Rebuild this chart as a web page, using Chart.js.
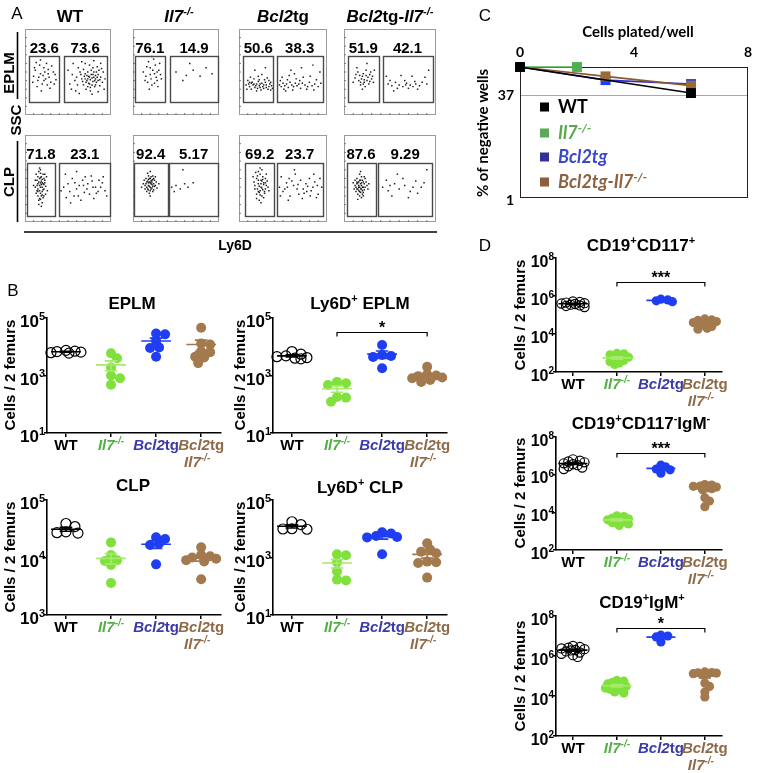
<!DOCTYPE html>
<html><head><meta charset="utf-8">
<script src="https://cdn.jsdelivr.net/npm/chart.js"></script>
<style>html,body{margin:0;padding:0;background:#fff}#wrap{position:relative;width:757px;height:773px;overflow:hidden;background:#fff}#wrap canvas{position:absolute;left:0;top:0}</style>
</head><body><div id="wrap"></div>
<script>
// ================= DATA =================
const groupNames = ['WT', 'Il7-/-', 'Bcl2tg', 'Bcl2tg-Il7-/-'];

// Panel A: flow cytometry gate percentages
const pctEPLM = [[23.6, 73.6], [76.1, 14.9], [50.6, 38.3], [51.9, 42.1]];
const pctCLP  = [[71.8, 23.1], [92.4, 5.17], [69.2, 23.7], [87.6, 9.29]];
// gates (Ly6D range, plot units 0-100)
const gateEPLM = [[[5, 40], [45, 95]], [[2, 37], [43, 99]], [[5, 39], [43, 95]], [[4, 38], [42, 96]]];
const gateYEPLM = [16, 69];
const gateCLP = [[[2, 35], [40, 99]], [[1, 40], [42, 99]], [[7, 40], [43, 95]], [[3, 34], [37, 96]]];
const gateYCLP = [7, 68];
// events [Ly6D, SSC] in plot units 0-100
const flowEPLM_WT = [[12,52],[18,48],[22,55],[15,40],[28,44],[33,50],[20,36],[25,60],[10,45],[30,38],[17,58],[24,42],[35,47],[14,33],[27,53],[21,46],[9,38],[31,57],[19,28],[26,35],[13,61],[36,41],[23,50],[16,44],[29,31],[11,55],[34,36],[22,40],[18,64],[27,48],
[78,43],[72,40],[82,46],[75,36],[85,40],[70,48],[80,50],[76,32],[88,44],[66,42],[74,45],[83,38],[79,55],[68,35],[86,52],[73,50],[81,33],[77,47],[90,38],[64,50],[71,30],[84,56],[60,44],[87,34],[75,58],[79,39],[69,45],[82,42],[76,41],[74,37],[80,44],[72,46],[85,47],[78,35],[67,39],[83,50],[70,42],[77,52],[81,40],[73,33],[58,40],[62,55],[55,47],[52,36],[91,50],[93,42],[56,60],[66,62],[88,60],[59,28],[63,25],[85,27],[78,24],[50,52],[54,30],[92,30],[70,60],[80,63],[61,35],[89,54],[76,28],[68,53],[84,44],[71,38],[79,47],[75,44],[82,35],[73,42],[65,47],[87,41]];
const flowEPLM_Il7 = [[20,55],[25,48],[18,62],[28,40],[22,35],[30,52],[15,45],[26,58],[21,42],[32,47],[17,38],[24,65],[29,33],[12,50],[23,52],[27,44],[19,30],[31,60],[16,56],[25,37],[22,68],[28,50],[14,40],[33,42],[20,47],
[50,50],[62,46],[70,52],[85,55],[58,40],[78,45],[92,48],[66,60]];
const flowEPLM_Bcl2 = [[8,35],[12,33],[15,38],[18,32],[20,36],[23,34],[26,37],[28,31],[31,35],[34,33],[36,38],[10,40],[14,30],[17,42],[22,39],[25,29],[29,41],[33,30],[37,34],[11,36],[19,34],[24,36],[27,33],[30,38],[35,36],[13,44],[21,31],[32,43],[16,35],[9,30],[38,31],[26,47],[18,52],[30,55],[22,45],[14,37],[34,40],[20,28],[28,35],[24,32],[36,29],[12,38],[31,32],[17,36],[23,41],
[46,35],[48,33],[50,37],[52,34],[54,36],[56,32],[58,38],[47,40],[51,30],[55,41],[60,35],[62,33],[64,37],[66,34],[68,36],[70,31],[72,37],[75,35],[78,33],[80,38],[83,34],[86,36],[90,33],[93,37],[49,44],[57,46],[65,42],[73,44],[81,45],[88,41],[53,28],[61,29],[69,40],[77,30],[85,29],[59,52],[71,55],[84,58],[92,50],[63,48]];
const flowEPLM_DKO = [[20,45],[25,40],[15,50],[22,38],[28,47],[18,35],[30,42],[12,43],[24,52],[27,36],[16,40],[21,48],[32,38],[19,42],[26,44],[14,55],[23,33],[29,50],[17,46],[25,60],[10,38],[31,45],[20,30],[22,41],[28,39],[13,47],[33,52],[18,38],[24,46],[21,36],
[48,36],[52,34],[56,38],[60,35],[64,33],[68,37],[72,35],[75,33],[78,36],[82,34],[50,40],[58,31],[66,40],[70,31],[85,38],[62,46],[74,45],[88,44],[92,52],[54,28],[80,30],[46,45],[67,35],[77,39],[90,36]];
const flowCLP_WT = [[18,40],[15,35],[20,45],[17,50],[22,38],[14,42],[19,30],[21,55],[16,25],[23,48],[13,33],[18,60],[20,22],[15,52],[22,43],[17,36],[19,47],[12,40],[24,32],[16,58],[21,28],[18,45],[14,48],[20,35],[23,55],[17,42],[19,18],[15,30],[22,50],[18,33],[16,46],[20,40],[13,55],[21,44],[17,27],[19,52],[24,41],[15,38],[18,56],[22,30],[16,20],[20,49],[14,36],[19,43],[17,62],[21,37],[18,26],[23,45],[15,44],[20,31],[12,48],[26,36],[10,42],[25,52],[18,51],
[45,40],[52,35],[58,45],[62,30],[68,42],[72,38],[78,47],[83,33],[88,40],[93,36],[48,28],[55,50],[65,25],[70,52],[80,27],[86,48],[50,44],[60,38],[75,32],[90,45],[42,36],[57,30],[67,48],[73,44],[82,40],[95,30],[47,55],[63,42],[77,53],[85,35],[53,22],[69,34],[79,40],[91,52],[60,58]];
const flowCLP_Il7 = [[20,45],[18,42],[22,48],[16,40],[24,44],[19,50],[21,38],[17,47],[23,41],[15,44],[25,48],[20,36],[18,53],[22,43],[14,38],[26,42],[19,46],[21,52],[16,35],[23,49],[20,40],[17,56],[24,37],[18,45],[22,39],[12,44],[27,46],[19,33],[21,44],[15,50],[25,41],[20,58],[17,38],[23,53],[18,49],[10,40],[28,39],[13,48],[20,30],[22,46],[16,46],[24,50],[19,41],[21,47],[18,37],[26,52],[14,42],[23,35],[20,50],[30,44],
[45,40],[50,42],[55,38],[60,44],[64,40],[48,35],[58,60],[70,45]];
const flowCLP_Bcl2 = [[25,40],[22,35],[28,45],[20,50],[30,38],[24,55],[26,30],[18,42],[32,47],[23,25],[27,52],[21,38],[29,33],[25,48],[19,57],[31,42],[24,36],[28,28],[22,44],[26,60],[20,32],[30,50],[23,41],[27,37],[25,22],[17,46],[33,40],[21,53],[28,43],[24,31],[26,47],[22,58],[29,35],[18,38],[31,55],[25,44],[20,27],[27,49],[23,34],[30,45],[16,52],[34,36],[22,48],[26,39],[24,62],
[46,40],[50,35],[54,45],[58,30],[62,42],[66,38],[70,48],[74,33],[78,41],[82,36],[86,46],[90,32],[94,40],[48,52],[56,25],[64,55],[72,27],[80,50],[88,28],[52,38],[60,47],[68,32],[76,44],[84,40],[92,50],[47,30],[57,50],[67,43],[77,35],[85,55],[63,60],[73,38],[89,42],[55,40],[81,30]];
const flowCLP_DKO = [[17,40],[15,38],[19,42],[14,44],[20,36],[16,46],[18,34],[21,40],[13,40],[17,48],[22,44],[15,32],[19,38],[12,42],[20,48],[16,36],[23,40],[18,44],[14,50],[21,34],[17,30],[19,52],[11,38],[24,46],[16,42],[20,40],[15,45],[22,37],[18,38],[13,35],[25,42],[17,55],[19,28],[21,46],[14,38],[23,50],[16,40],[18,48],[20,32],[10,45],[26,38],[12,48],[22,52],[17,35],[19,45],[15,26],[27,44],[18,58],[21,30],[14,46],
[42,40],[48,36],[55,44],[60,38],[66,42],[72,35],[78,47],[84,40],[90,60],[46,48],[52,30],[64,50],[70,28],[80,33],[58,55],[75,40],[87,45],[50,42]];

// Panel B: cells / 2 femurs, groups in order WT, Il7-/-, Bcl2tg, Bcl2tg Il7-/-
const eplmCells = [[7000,6500,6000,7500,6200,6800],[5900,4000,1900,1000,800,480],[29000,27000,16000,9000,9500,4500],[46000,13000,12000,7000,6500,4500,4200,2700]];
const ly6dEplmCells = [[6800,5500,4800,4500,4200,4000,3800],[600,540,470,180,170,123],[11500,5200,4800,4400,1800],[2000,1100,1000,950,850,800,700,600]];
const clpCells = [[39000,34500,28000,27000,26500],[18300,11000,9000,8700,7400,3600],[22500,21000,17500,16500,7600],[15000,11000,10500,10000,9500,9000,8500,4200]];
const ly6dClpCells = [[17500,14000,10000,9800,9600],[1300,1200,680,330,170,160],[7600,6800,5600,5200,5000,1300],[3100,1900,1600,1400,720,680,640,200]];
const ticksB = [10, 1e3, 1e5];
const ticksCLP = [1e3, 1e4, 1e5];

// Panel C: limiting dilution, [cells plated/well, % negative wells]
const platedWT   = [[0,100],[6,40]];
const platedIl7  = [[0,100],[2,100]];
const platedBcl2 = [[0,100],[3,63],[6,55]];
const platedDKO  = [[0,100],[3,72],[6,52]];
const ticksCx = [0, 4, 8];
const ticksCy = [1, 37];

// Panel D
const cd117Cells = [[520000,480000,450000,420000,400000,380000,350000,320000,300000,260000],[950,900,800,600,550,450,400,350,300,250],[680000,620000,560000,500000],[62000,55000,52000,45000,40000,36000,30000,25000,20000,18000]];
const cd117IgMnegCells = [[6.5e6,5.5e6,5e6,4.5e6,4e6,3.6e6,3.2e6,2.8e6,2.4e6,2e6],[6500,6000,5000,4500,4000,3600,3200,2800,2400,2000],[3.2e6,2.6e6,2e6,1.8e6,1.2e6],[300000,280000,250000,240000,220000,200000,180000,160000,60000,40000,20000]];
const igmPosCells = [[3.2e6,2.8e6,2.6e6,2.4e6,2.2e6,2e6,1.9e6,1.7e6,1.5e6,1.3e6,1.1e6,0.9e6],[60000,55000,48000,40000,35000,30000,28000,25000,22000,20000,16000,14000],[1.1e7,1e7,9e6,5e6],[160000,150000,145000,140000,130000,125000,115000,45000,30000,16000,9000]];
const ticksD = [1e2, 1e4, 1e6, 1e8];

// ================= RENDERING =================
const FONT = '"Liberation Sans", Arial, Helvetica, sans-serif';
const FONTC = 'Lato, "Open Sans", sans-serif';
const W = 757, H = 773;
const wrap = document.getElementById('wrap');
const COL_PT = ['#000000', '#80e13c', '#1f3ef2', '#a37a4e'];
const COL_TXT = ['#000000', '#52b043', '#3a3aa8', '#8e6a48'];
const SEG = [
  [{t:'WT'}],
  [{t:'Il7',it:true},{t:'-/-',it:true,sup:true}],
  [{t:'Bcl2',it:true},{t:'tg'}],
  [{t:'Bcl2',it:true},{t:'tg-'},{t:'Il7',it:true},{t:'-/-',it:true,sup:true}]
];
const SEG_IL7 = SEG[1];
const SEG_BCL = SEG[2];

function newCanvas(){
  const c = document.createElement('canvas');
  c.width = W; c.height = H; c.style.width = W + 'px'; c.style.height = H + 'px';
  wrap.appendChild(c); return c;
}
function pad(a){ return {left:a[0], top:a[1], right:W-a[2], bottom:H-a[3]}; }
function rich(ctx, segs, x, y, o){
  ctx.save(); ctx.translate(x, y); if (o.rot) ctx.rotate(o.rot);
  const sz = o.size, fam = o.family || FONT, wt = o.weight || 'bold';
  const f = s => (s.it ? 'italic ' : '') + wt + ' ' + (s.sup ? Math.round(sz*0.64) : sz) + 'px ' + fam;
  let w = 0; const ws = [];
  for (const s of segs){ ctx.font = f(s); const m = ctx.measureText(s.t).width; ws.push(m); w += m; }
  let cx = o.align === 'left' ? 0 : o.align === 'right' ? -w : -w/2;
  ctx.textBaseline = 'alphabetic'; ctx.textAlign = 'left';
  segs.forEach((s, i) => {
    ctx.font = f(s); ctx.fillStyle = s.c || o.color || '#000';
    ctx.fillText(s.t, cx, sz*0.36 - (s.sup ? sz*0.42 : 0)); cx += ws[i];
  });
  ctx.restore();
}
const BASE = {responsive:false, animation:false, events:[], devicePixelRatio:1,
  plugins:{legend:{display:false}, tooltip:{enabled:false}}};

// ---------- Panel A ----------
function flowPanel(area, pts, gates, gy, pcts){
  const cv = newCanvas();
  new Chart(cv, {
    type:'scatter',
    data:{datasets:[{data:pts.map(p => ({x:p[0], y:p[1]})), pointStyle:'rect', pointRadius:1.05,
      backgroundColor:'#1c1c1c', borderWidth:0, clip:false}]},
    options:Object.assign({}, BASE, {
      layout:{padding:pad(area), autoPadding:false},
      scales:{
        x:{type:'linear', min:0, max:100, display:false},
        y:{type:'linear', min:0, max:100, display:false}
      }
    }),
    plugins:[{id:'flow',
      beforeDatasetsDraw(ch){
        const c = ch.ctx, a = ch.chartArea;
        c.save(); c.strokeStyle = '#9a9a9a'; c.lineWidth = 1;
        c.strokeRect(a.left+0.5, a.top+0.5, a.right-a.left-1, a.bottom-a.top-1);
        c.strokeStyle = '#777';
        for (let i = 1; i < 10; i++){
          const x = a.left + (a.right-a.left)*i/10, y = a.bottom - (a.bottom-a.top)*i/10;
          c.beginPath(); c.moveTo(x, a.bottom); c.lineTo(x, a.bottom-2); c.moveTo(a.left, y); c.lineTo(a.left+2, y); c.stroke();
        }
        c.restore();
      },
      afterDatasetsDraw(ch){
        const c = ch.ctx, xs = ch.scales.x, ys = ch.scales.y, a = ch.chartArea;
        c.save(); c.strokeStyle = '#4a4a4a'; c.lineWidth = 1.4;
        gates.forEach((g, i) => {
          const x1 = xs.getPixelForValue(g[0]), x2 = xs.getPixelForValue(g[1]);
          const y1 = ys.getPixelForValue(gy[1]), y2 = ys.getPixelForValue(gy[0]);
          c.strokeRect(Math.round(x1)+0.5, Math.round(y1)+0.5, Math.round(x2-x1), Math.round(y2-y1));
          rich(c, [{t:String(pcts[i])}], (x1+x2)/2, a.top+19, {size:15});
        });
        c.restore();
      }
    }]
  });
}
const flowTop = [[25,29,111,115],[133,29,219,115],[239,29,327,115],[344,29,436,115]];
const flowBot = [[25,135,111,222],[133,135,219,222],[239,135,327,222],[344,135,436,222]];
const flowE = [flowEPLM_WT, flowEPLM_Il7, flowEPLM_Bcl2, flowEPLM_DKO];
const flowC = [flowCLP_WT, flowCLP_Il7, flowCLP_Bcl2, flowCLP_DKO];
for (let i = 0; i < 4; i++){
  flowPanel(flowTop[i], flowE[i], gateEPLM[i], gateYEPLM, pctEPLM[i]);
  flowPanel(flowBot[i], flowC[i], gateCLP[i], gateYCLP, pctCLP[i]);
}

// ---------- Panels B & D ----------
// scatter-dot layout: spread overlapping points sideways, within a bounded width
function swarm(vals, g, ypx, pxX, r, step, dist, maxOff){
  const order = vals.map((v, i) => i).sort((a, b) => vals[b] - vals[a]);
  const placed = [], out = new Array(vals.length);
  for (const i of order){
    const y = ypx(vals[i]); let best = 0, bestD = -1, found = false;
    for (let k = 0; k < 80; k++){
      const c = (k === 0 ? 0 : (k % 2 ? 1 : -1) * Math.ceil(k/2)) * r * step;
      if (Math.abs(c) > maxOff) break;
      const dmin = placed.length ? Math.min(...placed.map(p => Math.hypot(p.x - c, p.y - y))) : Infinity;
      if (dmin >= r*dist){ best = c; found = true; break; }
      if (dmin > bestD){ bestD = dmin; best = c; }
    }
    placed.push({x:best, y}); out[i] = {x:g + best/pxX, y:vals[i]};
  }
  return out;
}
function dotPanel(o){
  const [l, t, r, b] = o.area;
  const lmin = Math.log10(o.ymin), lmax = Math.log10(o.ymax);
  const pxX = (r - l)/(o.xmax - o.xmin);
  const ypx = v => t + (lmax - Math.log10(v))/(lmax - lmin)*(b - t);
  const datasets = o.vals.map((vals, g) => ({
    data: swarm(vals, g, ypx, pxX, o.r, o.step, o.dist, o.maxOff*pxX),
    pointRadius: o.r, pointStyle:'circle',
    backgroundColor: g === 0 ? 'rgba(255,255,255,0)' : COL_PT[g],
    borderColor: g === 0 ? '#000' : COL_PT[g],
    borderWidth: g === 0 ? 1.2 : 0, clip:false
  }));
  const axisGrid = {display:true, drawOnChartArea:false, drawTicks:true, tickLength:3, color:'#000', tickColor:'#000', tickWidth:1.5, lineWidth:1.5};
  const cv = newCanvas();
  new Chart(cv, {
    type:'scatter', data:{datasets},
    options:Object.assign({}, BASE, {
      layout:{padding:pad(o.area), autoPadding:false},
      scales:{
        x:{type:'linear', position:'bottom', min:o.xmin, max:o.xmax,
           afterBuildTicks:s => { s.ticks = [0,1,2,3].map(v => ({value:v})); },
           afterFit:s => { s.height = 0; },
           ticks:{display:false}, grid:Object.assign({}, axisGrid, {tickLength:4}), border:{display:true, color:'#000', width:1.6}},
        y:{type:'logarithmic', position:'left', min:o.ymin, max:o.ymax,
           afterBuildTicks:s => { s.ticks = o.ticks.map(v => ({value:v})); },
           afterFit:s => { s.width = 0; },
           ticks:{display:false}, grid:axisGrid, border:{display:true, color:'#000', width:1.6}}
      }
    }),
    plugins:[{id:'dots',
      afterDatasetsDraw(ch){
        const c = ch.ctx, xs = ch.scales.x, ys = ch.scales.y, a = ch.chartArea;
        // mean + SEM
        o.vals.forEach((vals, g) => {
          const n = vals.length, m = vals.reduce((s, v) => s + v, 0)/n;
          const sd = Math.sqrt(vals.reduce((s, v) => s + (v - m)*(v - m), 0)/(n - 1));
          const se = sd/Math.sqrt(n);
          const cx = xs.getPixelForValue(g);
          const ym = ys.getPixelForValue(m), y1 = ys.getPixelForValue(m + se), y2 = ys.getPixelForValue(Math.max(m - se, o.ymin));
          const hw = 0.33*pxX, cw = 0.14*pxX;
          c.save(); c.strokeStyle = g === 0 ? '#000' : (g === 1 ? '#a5ea6a' : COL_PT[g]); c.lineWidth = 1.6;
          c.beginPath();
          c.moveTo(cx - hw, ym); c.lineTo(cx + hw, ym);
          c.moveTo(cx, y1); c.lineTo(cx, y2);
          c.moveTo(cx - cw, y1); c.lineTo(cx + cw, y1);
          c.moveTo(cx - cw, y2); c.lineTo(cx + cw, y2);
          c.stroke(); c.restore();
        });
        // y tick labels 10^n
        o.ticks.forEach(v => {
          const e = Math.round(Math.log10(v));
          rich(c, [{t:'10'}, {t:String(e), sup:true}], a.left - 2, ys.getPixelForValue(v) + 3, {size:o.tickSize, align:'right'});
        });
        // category labels
        for (let g = 0; g < 4; g++){
          const x = xs.getPixelForValue(g);
          rich(c, g === 3 ? SEG_BCL : SEG[g], x, a.bottom + 12, {size:15, color:COL_TXT[g]});
          if (g === 3) rich(c, SEG_IL7, x - 4, a.bottom + 29, {size:15, color:COL_TXT[3]});
        }
        // titles
        rich(c, o.title, o.titlePos[0], o.titlePos[1], {size:17});
        rich(c, [{t:'Cells / 2 femurs'}], o.ytPos[0], o.ytPos[1], {size:15, rot:-Math.PI/2});
        // significance bracket
        if (o.bracket){
          const x1 = xs.getPixelForValue(o.bracket.g[0]), x2 = xs.getPixelForValue(o.bracket.g[1]);
          const yb = Math.round(ys.getPixelForValue(o.bracket.level)) + 0.5;
          c.save(); c.strokeStyle = '#000'; c.lineWidth = 1.2;
          c.beginPath(); c.moveTo(x1, yb + 4); c.lineTo(x1, yb); c.lineTo(x2, yb); c.lineTo(x2, yb + 4); c.stroke(); c.restore();
          rich(c, [{t:o.bracket.label}], (x1 + x2)/2, yb - 5, {size:16});
        }
      }
    }]
  });
}
const ly6dTitle = w => [{t:'Ly6D'}, {t:'+', sup:true}, {t:' ' + w}];
const BX = {xmin:-0.42, xmax:3.44, r:5, tickSize:17, step:0.6, dist:1.35, maxOff:0.36};
const DX = {xmin:-0.386, xmax:3.39, r:4.6, tickSize:16, step:0.5, dist:1.05, maxOff:0.3};
dotPanel(Object.assign({area:[47,318,221,433], vals:eplmCells, ymin:10, ymax:1e5, ticks:ticksB, title:[{t:'EPLM'}], titlePos:[132,303], ytPos:[10,375]}, BX));
dotPanel(Object.assign({area:[273,318,447,433], vals:ly6dEplmCells, ymin:10, ymax:1e5, ticks:ticksB, title:ly6dTitle('EPLM'), titlePos:[360,303], ytPos:[240,375], bracket:{g:[1,3], level:3.2e4, label:'*'}}, BX));
dotPanel(Object.assign({area:[47,500,221,615], vals:clpCells, ymin:1e3, ymax:1e5, ticks:ticksCLP, title:[{t:'CLP'}], titlePos:[133,485], ytPos:[10,557]}, BX));
dotPanel(Object.assign({area:[273,500,447,615], vals:ly6dClpCells, ymin:10, ymax:1e5, ticks:ticksB, title:ly6dTitle('CLP'), titlePos:[360,487], ytPos:[240,557]}, BX));
dotPanel(Object.assign({area:[556,258,722,372], vals:cd117Cells, ymin:100, ymax:1e8, ticks:ticksD,
  title:[{t:'CD19'},{t:'+',sup:true},{t:'CD117'},{t:'+',sup:true}], titlePos:[641,245], ytPos:[520,315], bracket:{g:[1,3], level:5.5e6, label:'***'}}, DX));
dotPanel(Object.assign({area:[556,437,722,550], vals:cd117IgMnegCells, ymin:100, ymax:1e8, ticks:ticksD,
  title:[{t:'CD19'},{t:'+',sup:true},{t:'CD117'},{t:'-',sup:true},{t:'IgM'},{t:'-',sup:true}], titlePos:[641,423], ytPos:[520,493], bracket:{g:[1,3], level:1.4e7, label:'***'}}, DX));
dotPanel(Object.assign({area:[556,616,722,736], vals:igmPosCells, ymin:100, ymax:1e8, ticks:ticksD,
  title:[{t:'CD19'},{t:'+',sup:true},{t:'IgM'},{t:'+',sup:true}], titlePos:[642,602], ytPos:[520,676], bracket:{g:[1,3], level:2.5e7, label:'*'}}, DX));

// ---------- Panel C ----------
(function(){
  const area = [520,67,748,198];
  const series = [platedWT, platedIl7, platedBcl2, platedDKO];
  const lineCol = ['#000000', '#4caf50', '#2a2ad8', '#8b5a2b'];
  const ptCol = ['#000000', '#4caf50', '#1e3cff', '#9a6a3a'];
  const sqCol = ['#000000', '#5aa858', '#323296', '#8c5e3c'];
  const txtCol = ['#000000', '#5aa84a', '#3b48c8', '#8c6240'];
  const order = [0, 1, 3, 2];
  const cv = newCanvas();
  new Chart(cv, {
    type:'scatter',
    data:{datasets:order.map(i => ({data:series[i].map(p => ({x:p[0], y:p[1]})), showLine:true,
      borderColor:lineCol[i], borderWidth:1.6, pointStyle:'rect', pointRadius:7,
      pointBackgroundColor:ptCol[i], pointBorderWidth:0, clip:false}))},
    options:Object.assign({}, BASE, {
      layout:{padding:pad(area), autoPadding:false},
      scales:{
        x:{type:'linear', position:'top', min:0, max:8, afterFit:s => { s.height = 0; },
           ticks:{display:false}, grid:{display:false}, border:{display:false}},
        y:{type:'logarithmic', position:'left', min:1, max:100, afterFit:s => { s.width = 0; },
           afterBuildTicks:s => { s.ticks = ticksCy.map(v => ({value:v})); },
           ticks:{display:false},
           grid:{display:true, drawTicks:false, drawOnChartArea:true, lineWidth:1,
                 color:c => (c.tick && c.tick.value === 37) ? '#a8a8a8' : 'rgba(0,0,0,0)'},
           border:{display:false}}
      }
    }),
    plugins:[{id:'lim',
      beforeDatasetsDraw(ch){
        const c = ch.ctx, a = ch.chartArea;
        c.save(); c.strokeStyle = '#222'; c.lineWidth = 1;
        c.strokeRect(a.left + 0.5, a.top + 0.5, a.right - a.left - 1, a.bottom - a.top - 1); c.restore();
      },
      afterDraw(ch){
        const c = ch.ctx, a = ch.chartArea, xs = ch.scales.x, ys = ch.scales.y;
        ticksCx.forEach(v => rich(c, [{t:String(v)}], xs.getPixelForValue(v), 52, {size:14, family:FONTC}));
        ticksCy.forEach(v => rich(c, [{t:String(v)}], 514, ys.getPixelForValue(v) + (v === 1 ? 2 : 0), {size:14, family:FONTC, align:'right'}));
        rich(c, [{t:'Cells plated/well'}], 638, 32, {size:15, family:FONTC});
        rich(c, [{t:'% of negative wells'}], 483, 133, {size:15, family:FONTC, rot:-Math.PI/2});
        const rows = [107, 133, 157, 182];
        const segs = [[{t:'WT'}], [{t:'Il7',it:true},{t:'-/-',it:true,sup:true}], [{t:'Bcl2tg',it:true}],
          [{t:'Bcl2tg-Il7',it:true},{t:'-/-',it:true,sup:true}]];
        rows.forEach((y, i) => {
          c.fillStyle = sqCol[i]; c.fillRect(540, y - 4.5, 9, 9);
          rich(c, segs[i], 558, y, {size:18, family:FONTC, align:'left', color:txtCol[i]});
        });
      }
    }]
  });
})();

// ---------- Static labels (panel letters, flow headers, row labels) ----------
(function(){
  const c = newCanvas().getContext('2d');
  [['A',17,13],['B',13,290],['C',485,15],['D',485,245]].forEach(p => rich(c, [{t:p[0]}], p[1], p[2], {size:17, weight:'normal'}));
  const hx = [70, 179, 283, 390];
  for (let i = 0; i < 4; i++) rich(c, SEG[i], hx[i], 16, {size:17});
  rich(c, [{t:'EPLM'}], 9, 73, {size:15, rot:-Math.PI/2});
  rich(c, [{t:'SSC'}], 16, 120, {size:15, rot:-Math.PI/2});
  rich(c, [{t:'CLP'}], 9, 182, {size:15, rot:-Math.PI/2});
  c.strokeStyle = '#000'; c.lineWidth = 1.6;
  c.beginPath(); c.moveTo(17.5, 32); c.lineTo(17.5, 99); c.moveTo(17.5, 141); c.lineTo(17.5, 222); c.stroke();
  c.beginPath(); c.moveTo(24, 232); c.lineTo(437, 232); c.stroke();
  rich(c, [{t:'Ly6D'}], 235, 245, {size:14});
})();
</script>
</body></html>
